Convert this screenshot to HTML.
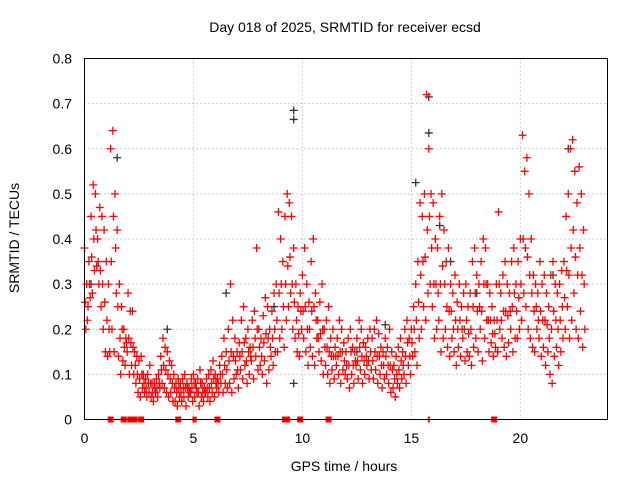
<!DOCTYPE html>
<html><head><meta charset="utf-8"><style>
body{margin:0;background:#fff;}
svg{display:block;font-family:"Liberation Sans",sans-serif;}
</style></head><body>
<svg id="chart" width="640" height="480" viewBox="0 0 640 480">
<text x="345" y="32" font-size="14" text-anchor="middle">Day 018 of 2025, SRMTID for receiver ecsd</text>
<text x="344" y="471" font-size="14" text-anchor="middle">GPS time / hours</text>
<text transform="translate(19,238) rotate(-90)" font-size="14" text-anchor="middle">SRMTID / TECUs</text>
<g id="grid"></g><g id="ticks"></g><g id="marks"></g>
<rect x="84.5" y="58.5" width="523" height="361" fill="none" stroke="#000"/>
</svg>
<script>
const xTicks=[0,5,10,15,20];
const yTicks=[0,0.1,0.2,0.3,0.4,0.5,0.6,0.7,0.8];
const yTickLabels=["0","0.1","0.2","0.3","0.4","0.5","0.6","0.7","0.8"];
const stepHours=0.1;
const redUpper=[.38,.30,.35,.45,.52,.50,.40,.47,.45,.42,.35,.30,.60,.64,.50,.42,.30,.25,.20,.18,.28,.24,
.24,.15,.14,.13,.14,.10,.09,.10,.12,.08,.08,.09,.10,.14,.18,.16,.15,.13,.12,.10,.08,.09,
.08,.09,.10,.08,.07,.09,.10,.08,.09,.11,.08,.07,.09,.10,.11,.13,.10,.09,.12,.14,.18,.15,
.20,.30,.22,.18,.15,.17,.22,.25,.18,.20,.16,.22,.24,.38,.20,.18,.23,.27,.25,.20,.24,.28,
.30,.46,.40,.35,.45,.50,.48,.45,.38,.30,.25,.28,.32,.38,.30,.26,.35,.40,.28,.22,.26,.30,
.20,.22,.25,.18,.20,.16,.18,.22,.20,.17,.15,.18,.20,.16,.15,.18,.22,.20,.17,.16,.18,.20,
.18,.20,.22,.19,.16,.15,.18,.16,.20,.15,.12,.14,.16,.18,.15,.20,.22,.18,.20,.25,.30,.35,
.48,.45,.50,.72,.60,.50,.48,.40,.38,.45,.50,.42,.35,.38,.30,.28,.32,.26,.30,.25,.28,.30,
.25,.28,.35,.38,.32,.30,.35,.40,.38,.30,.28,.25,.22,.30,.46,.28,.32,.35,.30,.28,.35,.38,
.30,.35,.40,.63,.55,.58,.50,.40,.32,.30,.28,.35,.30,.32,.28,.25,.32,.35,.30,.28,.30,.33,
.35,.45,.50,.60,.62,.55,.48,.56,.50,.42];
const redMid=[.26,.22,.30,.36,.40,.42,.35,.33,.30,.26,.22,.20,.35,.45,.38,.25,.18,.20,.16,.17,.18,.17,
.16,.12,.10,.09,.10,.08,.07,.08,.08,.06,.07,.07,.08,.11,.12,.11,.10,.09,.08,.07,.06,.07,
.06,.07,.07,.07,.06,.07,.08,.07,.06,.08,.06,.06,.07,.07,.08,.09,.08,.08,.10,.10,.12,.11,
.13,.15,.14,.13,.11,.14,.15,.17,.13,.15,.14,.16,.18,.20,.16,.14,.17,.19,.18,.16,.18,.20,
.22,.28,.30,.25,.30,.34,.36,.30,.26,.22,.19,.24,.24,.25,.20,.20,.24,.25,.22,.18,.19,.20,
.16,.16,.15,.14,.14,.14,.14,.15,.15,.13,.12,.12,.15,.12,.13,.13,.16,.14,.13,.14,.13,.15,
.13,.15,.14,.14,.12,.12,.14,.12,.12,.11,.09,.10,.11,.13,.12,.14,.17,.14,.17,.20,.22,.26,
.32,.35,.36,.42,.45,.38,.30,.30,.28,.30,.34,.30,.25,.24,.24,.20,.22,.20,.22,.20,.20,.22,
.19,.20,.25,.28,.24,.25,.24,.30,.30,.22,.22,.19,.19,.22,.30,.22,.24,.24,.23,.24,.25,.28,
.24,.27,.30,.40,.38,.36,.32,.28,.24,.25,.22,.24,.22,.22,.21,.18,.20,.24,.22,.20,.22,.25,
.27,.33,.32,.38,.42,.36,.32,.38,.32,.30];
const redLower=[.20,.25,.27,.28,.33,.34,.30,.25,.20,.15,.14,.15,.20,.15,.28,.14,.10,.13,.12,.15,.10,.12,
.10,.08,.06,.05,.07,.06,.05,.06,.05,.04,.06,.05,.07,.08,.07,.06,.05,.06,.04,.04,.03,.05,
.04,.05,.03,.05,.06,.04,.05,.06,.03,.05,.04,.06,.05,.04,.06,.05,.07,.06,.08,.06,.08,.07,
.08,.06,.09,.10,.07,.11,.09,.12,.08,.10,.13,.09,.14,.11,.12,.10,.13,.08,.11,.14,.12,.15,
.15,.18,.20,.16,.22,.25,.28,.20,.18,.15,.14,.20,.18,.15,.12,.16,.14,.12,.18,.15,.13,.10,
.12,.10,.08,.11,.09,.12,.10,.08,.11,.10,.09,.07,.10,.08,.12,.09,.11,.08,.10,.12,.09,.11,
.09,.11,.08,.10,.07,.09,.10,.08,.06,.07,.05,.08,.07,.09,.10,.08,.12,.10,.14,.15,.12,.18,
.20,.25,.22,.28,.30,.25,.18,.20,.22,.15,.18,.20,.16,.14,.18,.15,.12,.16,.14,.18,.13,.15,
.14,.12,.16,.18,.15,.20,.13,.18,.22,.15,.17,.14,.16,.15,.20,.18,.16,.14,.17,.20,.15,.18,
.18,.20,.22,.28,.25,.20,.18,.16,.15,.20,.18,.14,.16,.12,.15,.10,.08,.14,.16,.12,.15,.18,
.20,.25,.18,.22,.28,.20,.18,.24,.16,.20];
const blackTimes=[1.5,9.6,9.6,9.6,15.2,15.8,15.8,16.3,22.2,0.3,3.8,12.5,18.0,6.5,8.7,13.8,16.8,21.5];
const blackValues=[.58,.685,.665,.08,.525,.715,.635,.43,.60,.30,.20,.15,.28,.28,.25,.21,.35,.32];
const zeroTimes=[1.2,1.8,2.1,2.3,2.6,4.3,6.1,9.2,9.3,9.9,11.2,18.8];
const blackZeroTimes=[5.0,5.1,15.8];

const NS="http://www.w3.org/2000/svg";
const X0=84.5,X1=607.5,Y0=419.5,Y1=58.5;
function xs(t){return X0+t/24*(X1-X0);}
function ys(v){return Y0-v/0.8*(Y0-Y1);}
function mk(tag,attrs,parent){const e=document.createElementNS(NS,tag);for(const k in attrs)e.setAttribute(k,attrs[k]);parent.appendChild(e);return e;}
const grid=document.getElementById('grid'),ticks=document.getElementById('ticks'),marks=document.getElementById('marks');
xTicks.forEach(t=>{
  const x=xs(t);
  if(t>0){const g=mk('line',{x1:x,x2:x,y1:Y1,y2:Y0,stroke:'#a0a0a0','stroke-dasharray':'1,3'},grid);
  
  }
  const l=mk('text',{x:x,y:443,'font-size':14,'text-anchor':'middle'},ticks);l.textContent=t;
  
  
});
yTicks.forEach((v,i)=>{
  const y=ys(v);
  if(v>0&&v<0.8){const g=mk('line',{x1:X0,x2:X1,y1:y,y2:y,stroke:'#a0a0a0','stroke-dasharray':'1,3'},grid);
  
  }
  const l=mk('text',{x:72,y:y+5,'font-size':14,'text-anchor':'end'},ticks);l.textContent=yTickLabels[i];
  
  
});
function plus(t,v,color){
  const x=xs(t),y=ys(v);
  const p=mk('path',{d:`M${x-4},${y}h8M${x},${y-4}v8`,stroke:color,'stroke-width':1.3,fill:'none'},marks);
  
  
}
blackTimes.forEach((t,i)=>plus(t,blackValues[i],'#333'));
redUpper.forEach((v,i)=>plus(i*stepHours,v,'#f00'));
redMid.forEach((v,i)=>plus(i*stepHours+0.03,v,'#f00'));
redLower.forEach((v,i)=>plus(i*stepHours+0.06,v,'#f00'));
zeroTimes.forEach(t=>{const r=mk('rect',{x:xs(t)-3,y:Y0-3,width:6,height:6,fill:'#f00'},marks);
  
  });
blackZeroTimes.forEach(t=>{const r=mk('rect',{x:xs(t)-1,y:Y0-3,width:2,height:6,fill:'#f00'},marks);
  
  });
</script>
</body></html>
